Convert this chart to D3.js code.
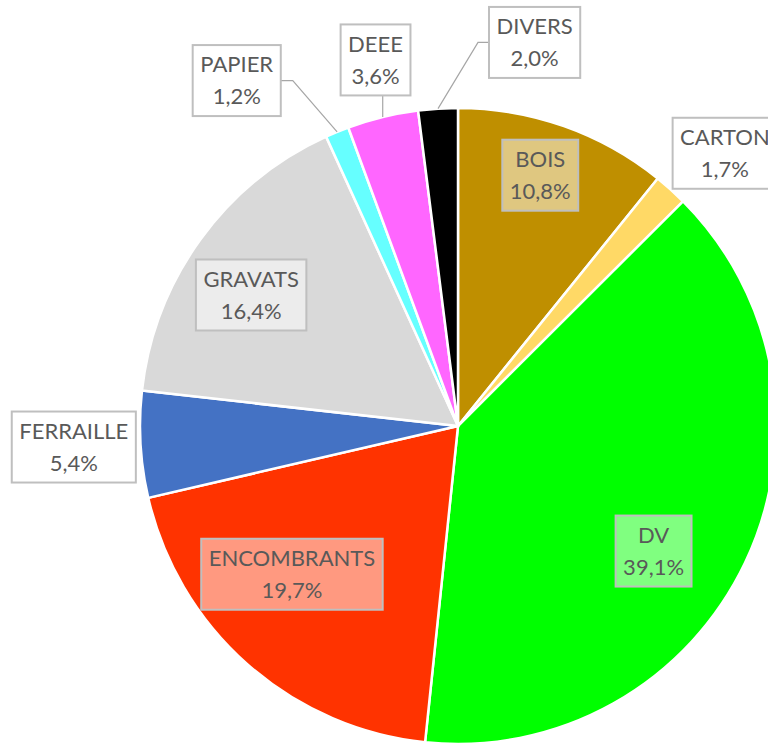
<!DOCTYPE html>
<html>
<head>
<meta charset="utf-8">
<script src="https://cdn.jsdelivr.net/npm/d3@7"></script>
<style>
  html, body { margin: 0; padding: 0; background: #fff; }
  svg { display: block; }
</style>
</head>
<body>
<div id="chart"></div>
<script>
const categories = ["BOIS", "CARTON", "DV", "ENCOMBRANTS", "FERRAILLE", "GRAVATS", "PAPIER", "DEEE", "DIVERS"];
const shares = [10.8, 1.7, 39.1, 19.7, 5.4, 16.4, 1.2, 3.6, 2.0];
const shareLabels = ["10,8%", "1,7%", "39,1%", "19,7%", "5,4%", "16,4%", "1,2%", "3,6%", "2,0%"];
const sliceColors = ["#BF8F00", "#FFD966", "#00FF00", "#FF3300", "#4472C4", "#D9D9D9", "#66FFFF", "#FF66FF", "#000000"];

// label placement like excel "best fit": [angle nudge (deg), radius factor, inside?, leader?]
const labelPlacement = [
  [-1.3, 0.83, true, false],
  [2.4, 1.20, false, false],
  [7.1, 0.73, true, false],
  [6.8, 0.70, true, false],
  [0.2, 1.21, false, false],
  [-3.6, 0.77, true, false],
  [-10.3, 1.29, false, true],
  [1.0, 1.18, false, true],
  [14.9, 1.23, false, true]
];

const width = 768, height = 743;
const cx = 458, cy = 426, radius = 318;
const textColor = "#595959";
const boxStroke = "#BFBFBF";

const svg = d3.select("#chart").append("svg")
  .attr("width", width)
  .attr("height", height)
  .style("font-family", "Lato, 'Open Sans', sans-serif");

const g = svg.append("g").attr("transform", `translate(${cx},${cy})`);

const pie = d3.pie().sort(null).value((d) => d);
const arcs = pie(shares);
const arc = d3.arc().innerRadius(0).outerRadius(radius);

g.append("g")
  .selectAll("path")
  .data(arcs)
  .join("path")
  .attr("d", arc)
  .attr("fill", (d, i) => sliceColors[i])
  .attr("stroke", "#fff")
  .attr("stroke-width", 2.5)
  .attr("stroke-linejoin", "round");

function polar(a, r) {
  return [Math.sin(a) * r, -Math.cos(a) * r];
}

const leaders = g.append("g").attr("fill", "none").attr("stroke", "#A6A6A6").attr("stroke-width", 1.2);
const labels = g.append("g");

arcs.forEach((d, i) => {
  const [nudge, rf, inside, leader] = labelPlacement[i];
  const mid = (d.startAngle + d.endAngle) / 2;
  const [lx, ly] = polar(mid + (nudge * Math.PI) / 180, rf * radius);

  const lab = labels.append("g").attr("transform", `translate(${lx},${ly})`);
  const rect = lab.append("rect");
  const t = lab.append("text")
    .attr("text-anchor", "middle")
    .attr("fill", textColor)
    .attr("font-size", 22);
  t.append("tspan").attr("x", 0).attr("y", -16).attr("dy", "0.35em").text(categories[i]);
  t.append("tspan").attr("x", 0).attr("y", 16).attr("dy", "0.35em").text(shareLabels[i]);

  const tw = t.node().getBBox().width;
  const bw = tw + 15, bh = 71;
  const fill = inside ? d3.interpolateRgb(sliceColors[i], "#fff")(0.5) : "#fff";
  rect.attr("x", -bw / 2).attr("y", -bh / 2)
    .attr("width", bw).attr("height", bh)
    .attr("fill", fill)
    .attr("stroke", boxStroke)
    .attr("stroke-width", 2);

  if (leader) {
    const [px, py] = polar(mid, radius);
    const left = lx - bw / 2, right = lx + bw / 2;
    let pts;
    if (px > left && px < right) {
      pts = [[px, py], [px, ly + bh / 2]];
    } else if (px <= left) {
      pts = [[px, py], [left - 11, ly], [left, ly]];
    } else {
      pts = [[px, py], [right + 12, ly], [right, ly]];
    }
    leaders.append("path").attr("d", d3.line()(pts));
  }
});
</script>
</body>
</html>
